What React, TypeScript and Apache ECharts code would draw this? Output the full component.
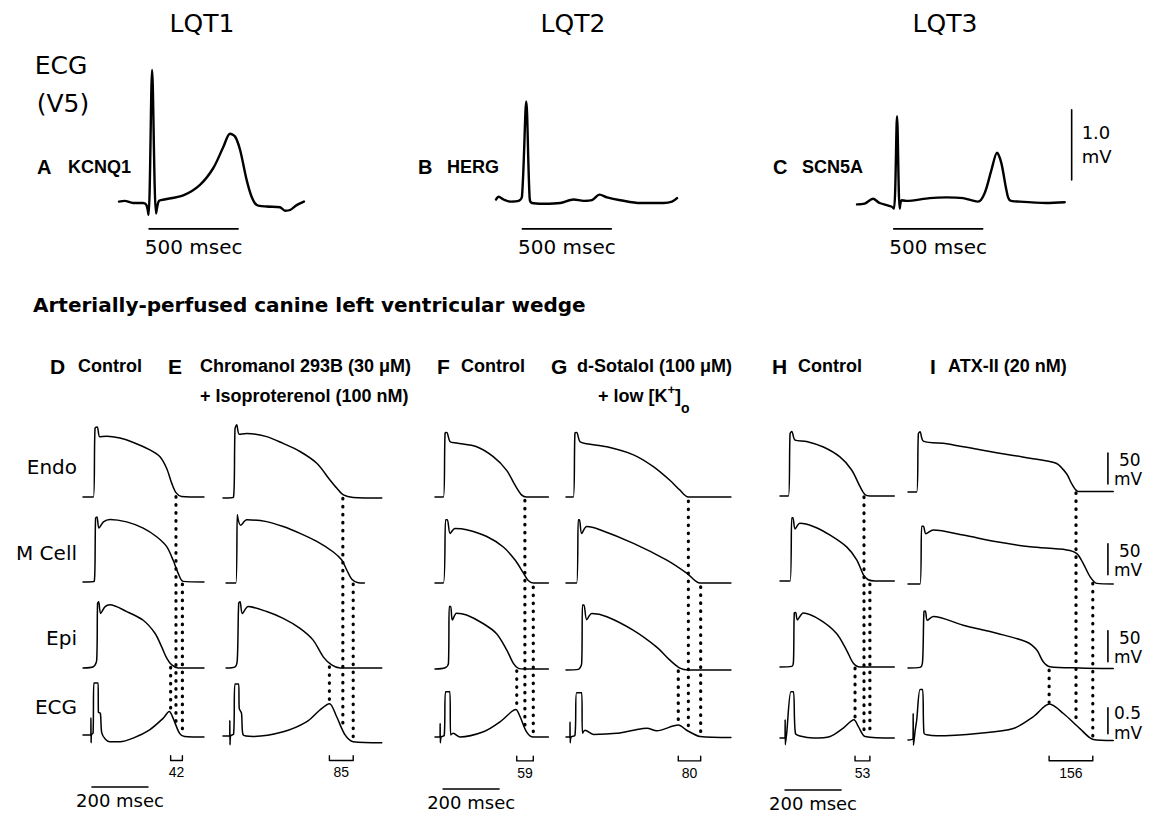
import React, { useEffect, useRef } from "react";
import * as echarts from "echarts";

type Pt = [number, number];

// ---------------- Top: clinical ECG (V5), time in ms, voltage in mV ----------------
const ECG_A_KCNQ1: Pt[] = [[0,0.02],[32,0.03],[79,0],[135,0],[154,-0.03],[166,-0.17],[186,1.9],[208,-0.15],[222,0.02],[235,0.04],[361,0.11],[455,0.26],[530,0.5],[586,0.8],[624,0.99],[652,0.95],[680,0.76],[717,0.33],[745,0.09],[774,-0.03],[830,-0.05],[905,-0.06],[933,-0.11],[961,-0.1],[998,-0.03],[1039,0.02]];
const ECG_B_HERG: Pt[] = [[0,0.05],[15,0.09],[43,0.05],[81,0.02],[127,0.03],[146,0.09],[170,1.45],[189,0.07],[202,0],[268,-0.01],[361,0],[436,0.05],[493,0.03],[539,0.04],[582,0.12],[624,0.08],[699,0.04],[811,0],[942,0],[989,0.02],[1017,0.07]];
const ECG_C_SCN5A: Pt[] = [[0,-0.02],[43,-0.01],[90,0.06],[127,0],[193,-0.05],[208,-0.08],[225,1.24],[240,-0.08],[251,0.04],[277,0.03],[408,0.07],[502,0.08],[596,0.07],[642,0.04],[680,0.02],[717,0.14],[755,0.47],[787,0.72],[811,0.57],[839,0.19],[858,0.04],[914,0.02],[1064,0],[1167,0.01]];

const TOP_TITLES = ["LQT1", "LQT2", "LQT3"];
const TOP_LETTERS = ["A", "B", "C"];
const TOP_GENES = ["KCNQ1", "HERG", "SCN5A"];
const TOP_TIME_BAR_START = [169, 148, 206]; // ms
const TOP_TIME_BAR_MS = 500;
const TOP_TIME_BAR_V = -0.37;
const TOP_VOLT_BAR_T = 1206;
const TOP_VOLT_BAR_V: Pt = [0.33, 1.33];

// ---------------- Bottom: wedge preparation ----------------
const PANEL_LETTERS = ["D", "E", "F", "G", "H", "I"];
const PANEL_LINE1 = ["Control", "Chromanol 293B (30 μM)", "Control", "d-Sotalol (100 μM)", "Control", "ATX-II (20 nM)"];
const ROW_LABELS = ["Endo", "M Cell", "Epi", "ECG"];

// action potentials (ms, mV) and transmural ECG (ms, mV)
const D_ENDO: Pt[] = [[0,-85],[37,-85],[43,26],[51,28],[60,12],[85,13],[132,10],[180,3],[239,-9],[275,-20],[299,-39],[317,-63],[332,-78],[352,-84],[432,-85]];
const D_MCELL: Pt[] = [[0,-85],[40,-84],[45,18],[50,20],[57,2],[73,12],[96,16],[156,12],[215,2],[263,-12],[299,-28],[322,-50],[340,-71],[358,-84],[432,-85]];
const D_EPI: Pt[] = [[0,-85],[37,-83],[49,-72],[52,19],[56,22],[63,3],[79,14],[96,17],[156,6],[215,-8],[257,-29],[281,-51],[299,-69],[317,-80],[340,-85],[432,-85]];
const D_ECG: Pt[] = [[0,0],[28,0],[28.3,0.33],[28.9,-0.15],[30,0],[36,0.04],[39,1.0],[54,1.0],[55,0.44],[62,0.42],[67,0.04],[80,-0.08],[96,-0.13],[132,-0.13],[179,-0.06],[238,0.1],[286,0.32],[308,0.45],[322,0.32],[345,0.03],[363,-0.03],[432,-0.04]];

const E_ENDO: Pt[] = [[0,-85],[37,-84],[43,27],[49,33],[58,18],[85,19],[156,14],[215,3],[275,-10],[335,-29],[382,-56],[406,-69],[430,-80],[465,-84],[567,-85]];
const E_MCELL: Pt[] = [[11,-85],[46,-85],[51,25],[53,25],[63,8],[85,17],[156,14],[215,6],[275,-5],[335,-18],[394,-35],[424,-48],[442,-64],[460,-79],[483,-84.5],[505,-85]];
const E_EPI: Pt[] = [[11,-85],[43,-83],[51,-72],[56,19],[61,22],[69,3],[90,14],[156,6],[215,-5],[275,-21],[322,-40],[358,-67],[388,-80],[418,-85],[567,-85]];
const E_ECG: Pt[] = [[0,0],[24,0],[24.4,0.3],[25,-0.17],[27,0],[38,0.04],[43,1.0],[56,1.0],[58,0.53],[66,0.44],[72,0.02],[108,-0.01],[215,0.08],[298,0.27],[346,0.5],[380,0.62],[406,0.37],[436,0.02],[465,-0.11],[567,-0.13]];

const F_ENDO: Pt[] = [[0,-85],[30,-85],[36,18],[42,19],[54,4],[77,2],[149,-4],[208,-20],[256,-42],[286,-66],[310,-82],[327,-85],[405,-85]];
const F_MCELL: Pt[] = [[0,-85],[30,-85],[38,17],[44,17],[54,-5],[71,3],[113,1],[185,-10],[244,-27],[286,-48],[316,-69],[333,-81],[351,-85],[405,-85]];
const F_EPI: Pt[] = [[0,-85],[36,-83],[48,-76],[51,16],[56,16],[62,-6],[77,5],[113,2],[173,-12],[220,-28],[256,-54],[280,-76],[298,-84],[320,-85],[405,-85]];
const F_ECG: Pt[] = [[0,0],[18,0],[18.4,0.26],[19,-0.11],[22,0],[33,0.03],[38,0.87],[53,0.87],[56,0.04],[65,0.07],[89,0],[173,0.1],[232,0.29],[274,0.49],[289,0.53],[304,0.39],[327,0.1],[351,0],[405,0]];

const G_ENDO: Pt[] = [[0,-85],[26,-85],[32,18],[38,19],[50,4],[74,1],[146,-4],[241,-17],[312,-36],[371,-58],[407,-74],[437,-85],[589,-85]];
const G_MCELL: Pt[] = [[0,-85],[38,-85],[44,17],[48,17],[56,-5],[74,6],[121,1],[241,-21],[360,-48],[431,-69],[473,-84.5],[490,-85],[589,-85]];
const G_EPI: Pt[] = [[0,-85],[44,-84],[56,-74],[59,20],[64,20],[74,-4],[92,6],[146,1],[241,-21],[324,-48],[371,-69],[407,-82],[437,-85],[589,-85]];
const G_ECG: Pt[] = [[0,0],[14,0],[14.4,0.29],[15,-0.11],[18,0],[32,0.03],[38,0.85],[56,0.85],[59,0.07],[68,0.13],[98,0.05],[181,0.07],[241,0.13],[289,0.17],[324,0.12],[401,0.23],[431,0.13],[479,0.01],[589,-0.01]];

const H_ENDO: Pt[] = [[0,-85],[30,-85],[36,16],[42,19],[54,5],[95,3],[155,-6],[214,-22],[256,-43],[286,-70],[304,-83],[321,-85],[408,-85]];
const H_MCELL: Pt[] = [[0,-85],[36,-85],[42,17],[46,17],[54,-1],[71,8],[119,3],[179,-11],[238,-30],[274,-51],[298,-75],[315,-83],[340,-85],[408,-85]];
const H_EPI: Pt[] = [[0,-85],[42,-84],[48,-77],[51,2],[56,3],[62,-9],[83,2],[143,-9],[202,-31],[238,-58],[262,-79],[286,-85],[408,-85]];
const H_ECG: Pt[] = [[0,0],[18,0],[18.4,0.35],[19,-0.13],[24,0.1],[39,0.89],[48,0.89],[55,0.09],[71,0.04],[119,0],[179,0.03],[226,0.19],[264,0.35],[280,0.22],[304,0.03],[408,0]];

const I_ENDO: Pt[] = [[0,-85],[31,-85],[37,9],[43,12],[55,-3],[138,-7],[257,-17],[376,-26],[471,-33],[531,-39],[567,-56],[585,-72],[608,-84],[733,-84]];
const I_MCELL: Pt[] = [[0,-85],[43,-85],[49,8],[55,8],[64,-4],[90,2],[197,-6],[317,-17],[436,-25],[567,-30],[603,-36],[626,-52],[650,-73],[674,-84],[733,-85]];
const I_EPI: Pt[] = [[0,-85],[43,-84],[52,-75],[57,6],[62,7],[69,-8],[90,-2],[197,-16],[317,-29],[424,-43],[460,-56],[483,-75],[507,-83],[614,-85],[733,-86]];
const I_ECG: Pt[] = [[0,0],[18,0.03],[18.5,0.51],[19.5,-0.1],[26,0.2],[31,0.38],[43,0.97],[52,0.97],[57,0.13],[67,0.1],[102,0.08],[257,0.13],[376,0.22],[448,0.45],[505,0.69],[555,0.51],[614,0.22],[662,0.01],[733,-0.01]];

// end of repolarization markers (ms) and QT dispersion (ms)
const QT_ENDO = [332, 428, 321, 437, 300, 600];
const QT_MCELL = [355, 465, 351, 481, 321, 660];
const QT_EPI = [313, 380, 292, 401, 268, 504];
const QT_DISPERSION = [42, 85, 59, 80, 53, 156];
const BRACKET_V = [-0.4, -0.38, -0.37, -0.37, -0.35, -0.31]; // mV level of bracket ticks
const BRACKET_DEPTH = 0.09;

const TIME_BAR_START = [32, 0, 29, 0, 18, 0]; // 200 ms bars under D, F, H
const TIME_BAR_COLS = [0, 2, 4];
const TIME_BAR_MS = 200;
const TIME_BAR_V = -1.0;
const AP_BAR_T = 714;
const AP_BARS: Pt[] = [[-72, -22], [-70, -20], [-75, -25]];
const ECG_BAR: Pt = [0.12, 0.62];

// ---------------- layout ----------------
const TOP_X0 = [119, 496, 857];
const TOP_BASE_Y = 203;
const TOP_PX_PER_MS = 0.178;
const TOP_PX_PER_MV = 70;
const TOP_T_RANGE: Pt = [0, 1250];
const TOP_V_RANGE: Pt = [-0.5, 2.0];

const COL_X0 = [83, 223, 435, 566, 780, 908];
const ROW_BASE_Y = [
  [497, 582, 668, 735],
  [498, 583, 668, 736],
  [497, 583, 669, 737],
  [497, 583, 670, 737],
  [496, 581, 667, 738],
  [492, 584, 668, 740],
];
const BOT_PX_PER_MS = 0.28;
const AP_PX_PER_MV = 0.62;
const ECG_PX_PER_MV = 52;
const AP_REST = -85;
const AP_V_RANGE: Pt = [-95, 40];
const ECG_V_RANGE: Pt = [-1.2, 1.2];
const BOT_T_RANGE: Pt = [0, 760];

const SANS = "'Liberation Sans', Arial, Helvetica, sans-serif";
const WIDE = "'DejaVu Sans', 'Liberation Sans', sans-serif";
const NARROW = "'Liberation Sans Narrow', 'Liberation Sans', Arial, sans-serif";

const COLUMN_TRACES: Pt[][][] = [
  [D_ENDO, D_MCELL, D_EPI, D_ECG],
  [E_ENDO, E_MCELL, E_EPI, E_ECG],
  [F_ENDO, F_MCELL, F_EPI, F_ECG],
  [G_ENDO, G_MCELL, G_EPI, G_ECG],
  [H_ENDO, H_MCELL, H_EPI, H_ECG],
  [I_ENDO, I_MCELL, I_EPI, I_ECG],
];
const TOP_TRACES = [ECG_A_KCNQ1, ECG_B_HERG, ECG_C_SCN5A];

function interp(pts: Pt[], t: number): number {
  for (let i = 1; i < pts.length; i++) {
    if (t <= pts[i][0]) {
      const [t0, v0] = pts[i - 1];
      const [t1, v1] = pts[i];
      return t1 === t0 ? v1 : v0 + ((v1 - v0) * (t - t0)) / (t1 - t0);
    }
  }
  return pts[pts.length - 1][1];
}

function txt(x: number, y: number, text: string, o: any = {}) {
  return {
    type: "text",
    x,
    y,
    silent: true,
    style: {
      text,
      fill: "#000",
      fontSize: o.size || 18,
      fontFamily: o.family || SANS,
      fontWeight: o.weight || "normal",
      align: o.align || "left",
      verticalAlign: "middle",
      rich: o.rich,
    },
  };
}

export default function App() {
  const ref = useRef<HTMLDivElement>(null);

  useEffect(() => {
    if (!ref.current) return;
    const chart = echarts.init(ref.current, null, { renderer: "svg" });

    const grids: any[] = [];
    const xAxes: any[] = [];
    const yAxes: any[] = [];
    const series: any[] = [];

    const addGrid = (left: number, baseY: number, pxMs: number, pxMv: number, tR: Pt, vR: Pt, vBase: number) => {
      const idx = grids.length;
      grids.push({
        left,
        top: baseY - (vR[1] - vBase) * pxMv,
        width: (tR[1] - tR[0]) * pxMs,
        height: (vR[1] - vR[0]) * pxMv,
        show: false,
      });
      xAxes.push({ type: "value", gridIndex: idx, min: tR[0], max: tR[1], show: false });
      yAxes.push({ type: "value", gridIndex: idx, min: vR[0], max: vR[1], show: false });
      return idx;
    };
    const addLine = (gi: number, data: Pt[], width: number, smooth: number | boolean) => {
      series.push({
        type: "line",
        xAxisIndex: gi,
        yAxisIndex: gi,
        data,
        symbol: "none",
        showSymbol: false,
        smooth,
        clip: false,
        silent: true,
        lineStyle: { color: "#000", width, cap: "round", join: "round" },
      });
    };

    // top panels
    const topGrid: number[] = [];
    TOP_TRACES.forEach((tr, i) => {
      const gi = addGrid(TOP_X0[i], TOP_BASE_Y, TOP_PX_PER_MS, TOP_PX_PER_MV, TOP_T_RANGE, TOP_V_RANGE, 0);
      topGrid.push(gi);
      addLine(gi, tr, 2.4, 0.3);
      addLine(gi, [[TOP_TIME_BAR_START[i], TOP_TIME_BAR_V], [TOP_TIME_BAR_START[i] + TOP_TIME_BAR_MS, TOP_TIME_BAR_V]], 1.6, false);
    });
    addLine(topGrid[2], [[TOP_VOLT_BAR_T, TOP_VOLT_BAR_V[0]], [TOP_VOLT_BAR_T, TOP_VOLT_BAR_V[1]]], 1.6, false);

    // bottom panels
    const gIdx: number[][] = [];
    COLUMN_TRACES.forEach((col, c) => {
      gIdx.push([]);
      col.forEach((tr, r) => {
        const isEcg = r === 3;
        const gi = isEcg
          ? addGrid(COL_X0[c], ROW_BASE_Y[c][r], BOT_PX_PER_MS, ECG_PX_PER_MV, BOT_T_RANGE, ECG_V_RANGE, 0)
          : addGrid(COL_X0[c], ROW_BASE_Y[c][r], BOT_PX_PER_MS, AP_PX_PER_MV, BOT_T_RANGE, AP_V_RANGE, AP_REST);
        gIdx[c].push(gi);
        addLine(gi, tr, 1.5, 0.3);
        if (isEcg) {
          const b0 = BRACKET_V[c];
          const b1 = b0 - BRACKET_DEPTH;
          addLine(gi, [[QT_EPI[c], b0], [QT_EPI[c], b1], [QT_MCELL[c], b1], [QT_MCELL[c], b0]], 1.4, false);
          if (TIME_BAR_COLS.includes(c)) {
            addLine(gi, [[TIME_BAR_START[c], TIME_BAR_V], [TIME_BAR_START[c] + TIME_BAR_MS, TIME_BAR_V]], 1.6, false);
          }
          if (c === 5) addLine(gi, [[AP_BAR_T, ECG_BAR[0]], [AP_BAR_T, ECG_BAR[1]]], 1.6, false);
        } else if (c === 5) {
          addLine(gi, [[AP_BAR_T, AP_BARS[r][0]], [AP_BAR_T, AP_BARS[r][1]]], 1.6, false);
        }
      });
    });

    chart.setOption({
      animation: false,
      backgroundColor: "#fff",
      grid: grids,
      xAxis: xAxes,
      yAxis: yAxes,
      series,
    });

    // ---- graphics: texts + dotted repolarization lines ----
    const g: any[] = [];
    // top
    const titleX = [202, 573, 945];
    TOP_TITLES.forEach((t, i) => g.push(txt(titleX[i], 23, t, { size: 25, family: WIDE, align: "center" })));
    g.push(txt(61, 65, "ECG", { size: 25, family: WIDE, align: "center" }));
    g.push(txt(63, 103, "(V5)", { size: 25, family: WIDE, align: "center" }));
    const letterX = [37, 418, 773];
    const geneX = [68, 447, 802];
    TOP_LETTERS.forEach((l, i) => {
      g.push(txt(letterX[i], 167, l, { size: 20, weight: "bold" }));
      g.push(txt(geneX[i], 167, TOP_GENES[i], { size: 18, weight: "bold" }));
    });
    TOP_TIME_BAR_START.forEach((t0, i) => {
      const p = chart.convertToPixel({ gridIndex: topGrid[i] }, [t0 + TOP_TIME_BAR_MS / 2, TOP_TIME_BAR_V]) as number[];
      g.push(txt(p[0], p[1] + 18, `${TOP_TIME_BAR_MS} msec`, { size: 20, family: WIDE, align: "center" }));
    });
    {
      const p = chart.convertToPixel({ gridIndex: topGrid[2] }, [TOP_VOLT_BAR_T, (TOP_VOLT_BAR_V[0] + TOP_VOLT_BAR_V[1]) / 2]) as number[];
      g.push(txt(p[0] + 10, p[1] - 12, "1.0", { size: 18, family: WIDE }));
      g.push(txt(p[0] + 10, p[1] + 12, "mV", { size: 18, family: WIDE }));
    }

    // bottom header
    g.push(txt(33, 305, "Arterially-perfused canine left ventricular wedge", { size: 20, family: WIDE, weight: "bold" }));
    const pLetterX = [50, 168, 437, 551, 772, 930];
    const pTextX = [78, 200, 461, 577, 798, 948];
    PANEL_LETTERS.forEach((l, c) => {
      g.push(txt(pLetterX[c], 366, l, { size: 21, weight: "bold" }));
      g.push(txt(pTextX[c], 366, PANEL_LINE1[c], { size: 18, weight: "bold" }));
    });
    g.push(txt(200, 396, "+ Isoproterenol (100 nM)", { size: 18, weight: "bold" }));
    g.push(
      txt(598, 396, "{a|+ low [K}{b|+}{a|]}{c|o}", {
        size: 18,
        weight: "bold",
        rich: {
          a: { fontSize: 18, fontWeight: "bold", fontFamily: SANS, lineHeight: 40, verticalAlign: "middle" },
          b: { fontSize: 13, fontWeight: "bold", fontFamily: SANS, verticalAlign: "middle", padding: [0, 0, 14, 0] },
          c: { fontSize: 14, fontWeight: "bold", fontFamily: SANS, verticalAlign: "middle", padding: [24, 0, 0, 0] },
        },
      })
    );
    const rowLabelY = [467, 553, 638, 707];
    ROW_LABELS.forEach((l, r) => g.push(txt(77, rowLabelY[r], l, { size: 20, family: WIDE, align: "right" })));

    // dotted lines, brackets labels, scale labels
    COLUMN_TRACES.forEach((col, c) => {
      const times = [QT_ENDO[c], QT_MCELL[c], QT_EPI[c]];
      times.forEach((t, k) => {
        const p1 = chart.convertToPixel({ gridIndex: gIdx[c][k] }, [t, interp(col[k], t)]) as number[];
        const p2 = chart.convertToPixel({ gridIndex: gIdx[c][3] }, [t, interp(col[3], t)]) as number[];
        g.push({
          type: "line",
          silent: true,
          shape: { x1: p1[0], y1: p1[1] + 4, x2: p2[0], y2: p2[1] - 2 },
          style: { stroke: "#000", lineWidth: 3.2, lineDash: [0.6, 7.4], lineCap: "round" },
        });
      });
      const pb = chart.convertToPixel({ gridIndex: gIdx[c][3] }, [(QT_EPI[c] + QT_MCELL[c]) / 2, BRACKET_V[c] - BRACKET_DEPTH]) as number[];
      g.push(txt(pb[0], pb[1] + 12, String(QT_DISPERSION[c]), { size: 14, family: NARROW, align: "center" }));
      if (TIME_BAR_COLS.includes(c)) {
        const pt = chart.convertToPixel({ gridIndex: gIdx[c][3] }, [TIME_BAR_START[c] + TIME_BAR_MS / 2, TIME_BAR_V]) as number[];
        g.push(txt(pt[0], pt[1] + 13, `${TIME_BAR_MS} msec`, { size: 18, family: WIDE, align: "center" }));
      }
    });
    AP_BARS.forEach((b, r) => {
      const p = chart.convertToPixel({ gridIndex: gIdx[5][r] }, [AP_BAR_T, (b[0] + b[1]) / 2]) as number[];
      g.push(txt(p[0] + 11, p[1] - 8, String(b[1] - b[0]), { size: 17, family: WIDE }));
      g.push(txt(p[0] + 6, p[1] + 11, "mV", { size: 17, family: WIDE }));
    });
    {
      const p = chart.convertToPixel({ gridIndex: gIdx[5][3] }, [AP_BAR_T, (ECG_BAR[0] + ECG_BAR[1]) / 2]) as number[];
      g.push(txt(p[0] + 6, p[1] - 8, (ECG_BAR[1] - ECG_BAR[0]).toFixed(1), { size: 17, family: WIDE }));
      g.push(txt(p[0] + 6, p[1] + 12, "mV", { size: 17, family: WIDE }));
    }

    chart.setOption({ graphic: g });

    return () => chart.dispose();
  }, []);

  return (
    <div
      ref={ref}
      style={{ position: "fixed", left: 0, top: 0, width: 1155, height: 813, background: "#fff" }}
    />
  );
}
